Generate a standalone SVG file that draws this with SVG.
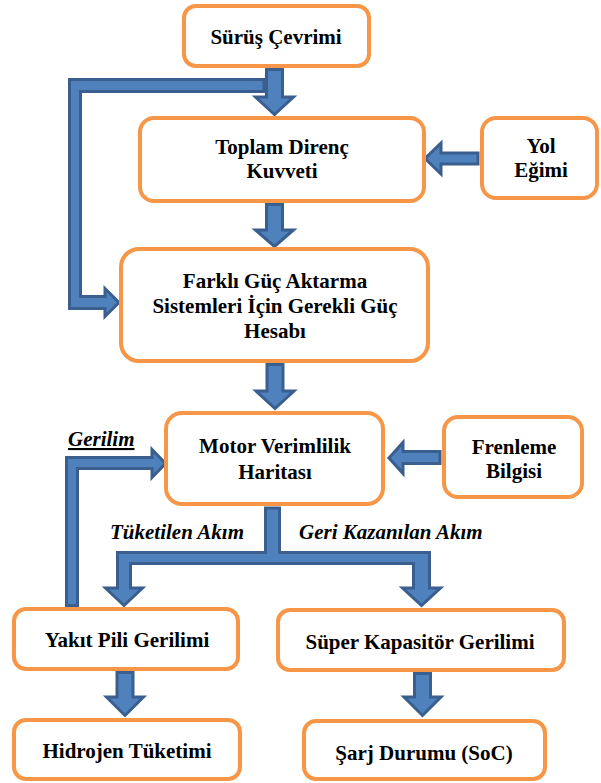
<svg xmlns="http://www.w3.org/2000/svg" width="601" height="783" viewBox="0 0 601 783">
<style>
.box{fill:#ffffff;stroke:#F79646;stroke-width:4}
.t{font-family:"Liberation Serif","Times New Roman",serif;font-weight:bold;font-size:21px;fill:#000;text-anchor:middle}
.lbl{font-family:"Liberation Serif","Times New Roman",serif;font-weight:bold;font-style:italic;font-size:21px;fill:#000}
.arr{fill:#4F81BD;stroke:#3A5F8E;stroke-width:3;stroke-linejoin:miter}
</style>
<rect width="601" height="783" fill="#ffffff"/>
<g id="connectors">
<path class="arr" d="M264,79.5 H69.5 V308.5 H105 V316.5 L119,302.5 L105,288.5 V296.5 H80.5 V91.5 H264 Z"/>
<path class="arr" d="M266.5,69.5 H282.5 V97 H293.5 L274.5,114.5 L255.5,97 H266.5 Z"/>
<path class="arr" d="M266.5,204.5 H282.5 V230 H293.5 L274.5,246.5 L255.5,230 H266.5 Z"/>
<path class="arr" d="M267,364.5 H283 V391 H294 L275,408.5 L256,391 H267 Z"/>
<path class="arr" d="M478,153 V164 H441 V174 L425,158.5 L441,143 V153 Z"/>
<path class="arr" d="M440,451.5 V463.5 H403 V473.5 L389,458 L403,442.5 V451.5 Z"/>
<path class="arr" d="M66.5,605.5 V457.5 H152 V449.5 L165.5,463.5 L152,477.5 V468.5 H77.5 V605.5 Z"/>
<path class="arr" d="M265.5,508 H279.5 V552.5 H429.5 V588 H440.5 L421.5,605.5 L402.5,588 H413.5 V563.5 H130.5 V588 H142.5 L124,605.5 L105.5,588 H117.5 V552.5 H265.5 Z"/>
<path class="arr" d="M117,672.5 H133 V697 H143.5 L125,715.5 L106.5,697 H117 Z"/>
<path class="arr" d="M414.5,673.5 H430.5 V697 H441 L422.5,715.5 L404,697 H414.5 Z"/>
</g>
<g id="surus"><rect class="box" x="184" y="6" width="185" height="60" rx="12"/><text class="t" x="276" y="44">Sürüş Çevrimi</text></g>
<g id="toplam"><rect class="box" x="140" y="118" width="284" height="83" rx="14"/><text class="t" x="282" y="154">Toplam Direnç</text><text class="t" x="282" y="178">Kuvveti</text></g>
<g id="yol"><rect class="box" x="482" y="118" width="115" height="80" rx="14"/><text class="t" x="541" y="153">Yol</text><text class="t" x="541" y="177">Eğimi</text></g>
<g id="farkli"><rect class="box" x="121" y="249" width="307" height="112" rx="18"/><text class="t" x="275" y="288">Farklı Güç Aktarma</text><text class="t" x="275" y="313">Sistemleri İçin Gerekli Güç</text><text class="t" x="275" y="338">Hesabı</text></g>
<g id="motor"><rect class="box" x="166" y="413" width="217" height="91" rx="16"/><text class="t" x="275" y="453">Motor Verimlilik</text><text class="t" x="275" y="479">Haritası</text></g>
<g id="frenleme"><rect class="box" x="444" y="417" width="138" height="80" rx="14"/><text class="t" x="514" y="454">Frenleme</text><text class="t" x="514" y="478">Bilgisi</text></g>
<g id="yakit"><rect class="box" x="14" y="609" width="224" height="60" rx="12"/><text class="t" x="127" y="647">Yakıt Pili Gerilimi</text></g>
<g id="super"><rect class="box" x="278" y="610" width="286" height="60" rx="12"/><text class="t" x="420" y="649">Süper Kapasitör Gerilimi</text></g>
<g id="hidrojen"><rect class="box" x="14" y="720" width="226" height="59" rx="12"/><text class="t" x="127" y="758">Hidrojen Tüketimi</text></g>
<g id="sarj"><rect class="box" x="304" y="721" width="241" height="58" rx="12"/><text class="t" x="424" y="760">Şarj Durumu (SoC)</text></g>
<g id="labels">
<text class="lbl" x="68" y="446" text-decoration="underline">Gerilim</text>
<text class="lbl" x="110" y="539">Tüketilen Akım</text>
<text class="lbl" x="299" y="539">Geri Kazanılan Akım</text>
</g>
</svg>
